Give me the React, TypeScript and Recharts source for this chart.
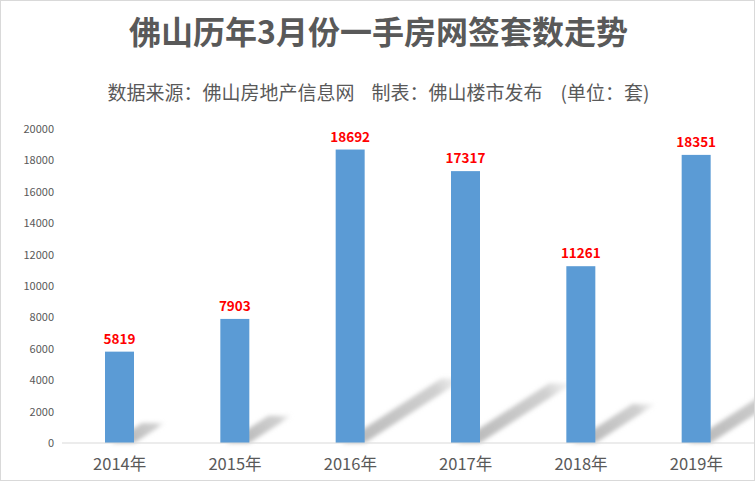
import React from "react";
import { BarChart, Bar, XAxis, YAxis, LabelList } from "recharts";

const years = ["2014年", "2015年", "2016年", "2017年", "2018年", "2019年"];
const counts = [5819, 7903, 18692, 17317, 11261, 18351];
const yTicks = [0, 2000, 4000, 6000, 8000, 10000, 12000, 14000, 16000, 18000, 20000];

const data = years.map((year, i) => ({ year, value: counts[i] }));

const FONT = '"Noto Sans CJK SC", "Noto Sans", sans-serif';

const ShadowBar = (props: any) => {
  const { x, y, width, height, index } = props;
  if (height == null || height <= 0) return null;
  const base = y + height;
  const dx = 0.34 * height;
  const dy = 0.22 * height;
  const x0 = x + 6;
  const x1 = x + width;
  const gid = `sg${index}`;
  const fid = `sf${index}`;
  return (
    <g>
      <defs>
        <linearGradient id={gid} gradientUnits="userSpaceOnUse" x1={x1} y1={base} x2={x1 + dx} y2={base - dy}>
          <stop offset="0" stopColor="#b8b8b8" stopOpacity={0.95} />
          <stop offset="0.75" stopColor="#c4c4c4" stopOpacity={0.8} />
          <stop offset="1" stopColor="#d0d0d0" stopOpacity={0.15} />
        </linearGradient>
        <filter id={fid} x="-50%" y="-50%" width="200%" height="200%">
          <feGaussianBlur stdDeviation="2" />
        </filter>
      </defs>
      <polygon
        points={`${x0},${base} ${x1},${base} ${x1 + dx},${base - dy} ${x0 + dx},${base - dy}`}
        fill={`url(#${gid})`}
        filter={`url(#${fid})`}
      />
      <rect x={x} y={y} width={width} height={height} fill="#5B9BD5" />
    </g>
  );
};

export default function App() {
  return (
    <div
      style={{
        position: "absolute",
        left: 0,
        top: 0,
        width: 755,
        height: 481,
        boxSizing: "border-box",
        border: "1px solid #d9d9d9",
        background: "#ffffff",
        fontFamily: FONT,
        overflow: "hidden",
      }}
    >
      <div
        style={{
          position: "absolute",
          left: 0,
          width: 755,
          top: 7,
          textAlign: "center",
          fontSize: 32,
          fontWeight: 700,
          color: "#595959",
          lineHeight: "44px",
        }}
      >
        佛山历年3月份一手房网签套数走势
      </div>
      <div
        style={{
          position: "absolute",
          left: 0,
          width: 755,
          top: 77,
          textAlign: "center",
          fontSize: 19,
          color: "#595959",
          lineHeight: "28px",
          whiteSpace: "nowrap",
        }}
      >
        <span>数据来源：佛山房地产信息网</span>
        <span style={{ marginLeft: 17 }}>制表：佛山楼市发布</span>
        <span style={{ marginLeft: 18 }}>(单位：套)</span>
      </div>
      <div style={{ position: "absolute", left: -1, top: -1 }}>
        <BarChart
          width={755}
          height={481}
          data={data}
          margin={{ top: 129, right: 1, bottom: 0, left: 0 }}
          barCategoryGap="0%"
        >
          <XAxis
            dataKey="year"
            height={38}
            axisLine={{ stroke: "#d9d9d9", strokeWidth: 1 }}
            tickLine={false}
            tickMargin={9}
            tick={{ fill: "#595959", fontSize: 16.5, fontFamily: FONT }}
            interval={0}
          />
          <YAxis
            width={62}
            domain={[0, 20000]}
            ticks={yTicks}
            axisLine={false}
            tickLine={false}
            tick={{ fill: "#595959", fontSize: 11, fontFamily: FONT }}
          />
          <Bar dataKey="value" barSize={29} fill="#5B9BD5" shape={<ShadowBar />} isAnimationActive={false}>
            <LabelList
              dataKey="value"
              position="top"
              offset={8}
              fill="#FF0000"
              fontSize={13.5}
              fontWeight={700}
              fontFamily={FONT}
            />
          </Bar>
        </BarChart>
      </div>
    </div>
  );
}
